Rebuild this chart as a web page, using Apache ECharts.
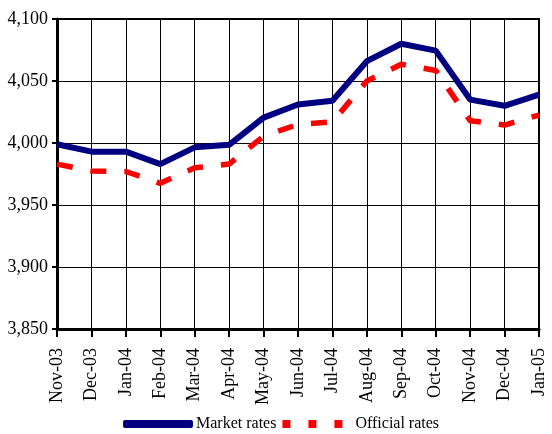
<!DOCTYPE html>
<html><head><meta charset="utf-8">
<script src="https://cdn.jsdelivr.net/npm/echarts@6/dist/echarts.min.js"></script>
<style>html,body{margin:0;padding:0;background:#fff}#c{width:552px;height:434px}</style>
</head><body><div id="c"></div>
<script>
var categories = ['Nov-03','Dec-03','Jan-04','Feb-04','Mar-04','Apr-04','May-04','Jun-04','Jul-04','Aug-04','Sep-04','Oct-04','Nov-04','Dec-04','Jan-05'];
var marketRates = [3999, 3993, 3993, 3983, 3996.5, 3998.5, 4020.5, 4031, 4034, 4066, 4080, 4074.5, 4035, 4030, 4039];
var officialRates = [3983, 3977.5, 3977, 3967.5, 3980, 3983, 4005.5, 4015, 4017, 4050, 4063.5, 4058.5, 4018, 4014.5, 4022.5];
var yMin = 3850, yMax = 4100, yStep = 50;

var FONT = 'Liberation Serif';
var chart = echarts.init(document.getElementById('c'));
chart.setOption({
  animation: false,
  backgroundColor: '#fff',
  grid: {left: 57, right: 13, top: 19, bottom: 105, show: true, borderColor: '#000', borderWidth: 2},
  legend: {
    top: 416, left: 123, padding: 0, itemWidth: 70, itemHeight: 8, itemGap: 6,
    textStyle: {fontFamily: FONT, fontSize: 16, color: '#000', padding: [0, 0, 0, -2]},
    data: [
      {name: 'Market rates', icon: 'roundRect', itemStyle: {color: '#000080'}},
      {name: 'Official rates', icon: 'path://M0,0H8V8H0Z M26,0H34V8H26Z M52,0H60V8H52Z M69.9,0H70V8H69.9Z', itemStyle: {color: '#ff0000'}}
    ]
  },
  xAxis: {
    type: 'category', data: categories, boundaryGap: false,
    axisLine: {lineStyle: {color: '#000', width: 3}},
    axisTick: {show: true, length: 8, lineStyle: {color: '#000', width: 2}},
    axisLabel: {rotate: 90, fontFamily: FONT, fontSize: 18, color: '#000', margin: 19, interval: 0},
    splitLine: {show: true, lineStyle: {color: '#000', width: 1}}
  },
  yAxis: {
    type: 'value', min: yMin, max: yMax, interval: yStep,
    axisLine: {show: true, lineStyle: {color: '#000', width: 3}},
    axisTick: {show: true, length: 5, lineStyle: {color: '#000', width: 2}},
    axisLabel: {fontFamily: FONT, fontSize: 18, color: '#000', margin: 9,
      formatter: function (v) { return v.toLocaleString('en-US'); }},
    splitLine: {show: true, lineStyle: {color: '#000', width: 1}}
  },
  series: [
    {name: 'Market rates', type: 'line', data: marketRates, symbol: 'none', z: 3,
     lineStyle: {color: '#000080', width: 6}, itemStyle: {color: '#000080'}},
    {name: 'Official rates', type: 'line', data: officialRates, symbol: 'none', z: 2,
     lineStyle: {color: '#ff0000', width: 5.5, type: [16, 18]}, itemStyle: {color: '#ff0000'}}
  ]
});
</script></body></html>
